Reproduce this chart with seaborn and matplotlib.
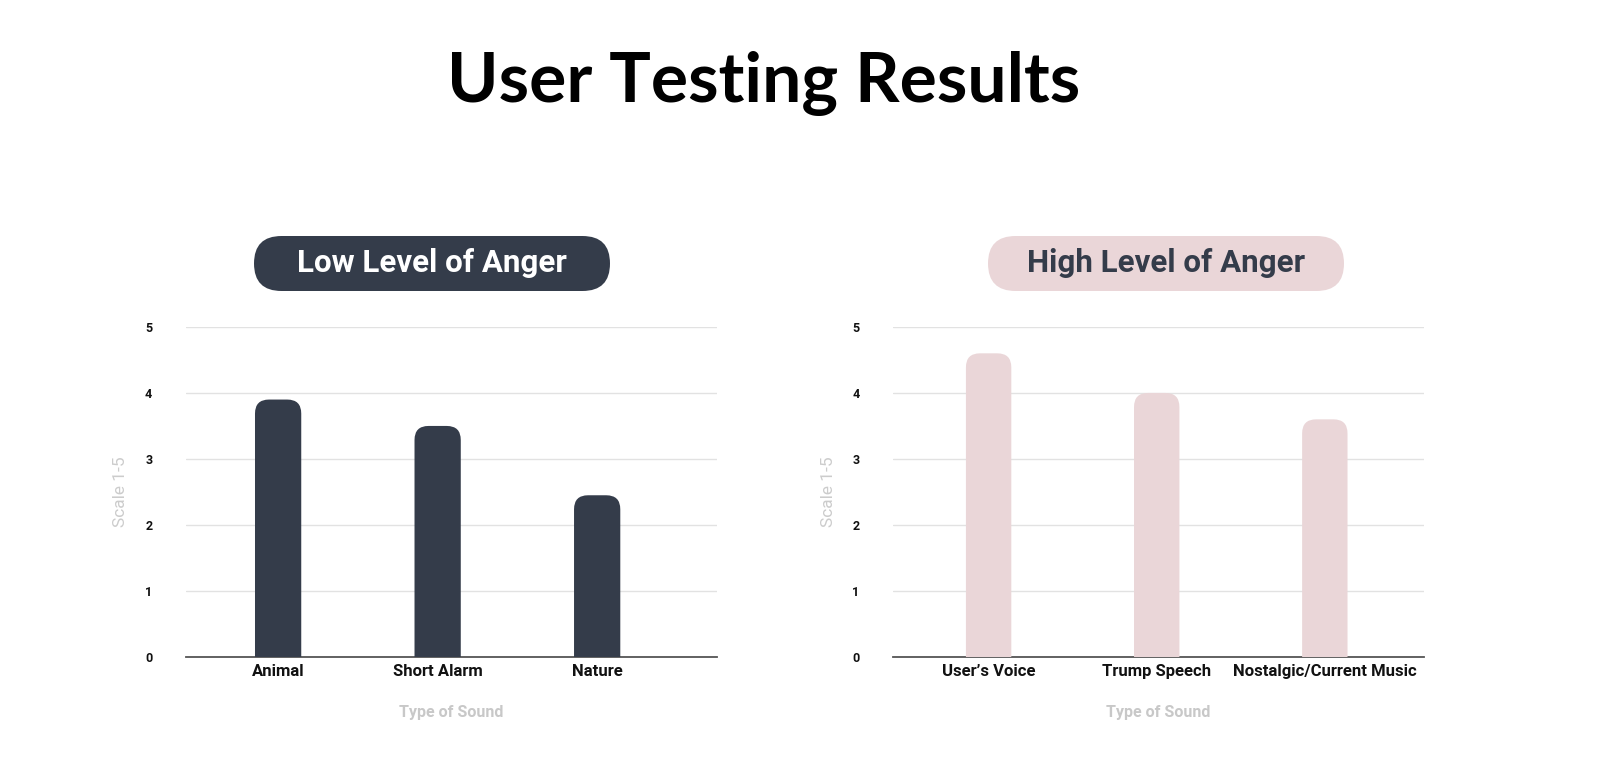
import matplotlib
matplotlib.use("Agg")
import pandas as pd
import matplotlib.pyplot as plt
import seaborn as sns
from matplotlib.patches import FancyBboxPatch

# Dados
low_sounds = ["Animal", "Short Alarm", "Nature"]
low_scores = [3.9, 3.5, 2.45]
high_sounds = ["User’s Voice", "Trump Speech", "Nostalgic/Current Music"]
high_scores = [4.6, 4.0, 3.6]

dark = "#343c4a"
pink = "#ead6d8"

sns.set_theme(style="white")
plt.rcParams["font.family"] = ["Roboto", "DejaVu Sans"]

fig = plt.figure(figsize=(16, 7.84), dpi=100)


def round_bars(ax, color):
    # troca os retângulos por barras com topo arredondado
    fig.canvas.draw()
    bb = ax.get_window_extent()
    x0, x1 = ax.get_xlim()
    y0, y1 = ax.get_ylim()
    px_x = bb.width / (x1 - x0)
    px_y = bb.height / (y1 - y0)
    for p in list(ax.patches):
        x, w, h = p.get_x(), p.get_width(), p.get_height()
        p.remove()
        r = 14 / px_x
        ax.add_patch(FancyBboxPatch((x, -0.5), w, h + 0.5,
                                    boxstyle=f"round,pad=0,rounding_size={r}",
                                    mutation_aspect=px_x / px_y,
                                    fc=color, ec="none", zorder=3))


def panel(rect, sounds, scores, color, xlim, width):
    ax = fig.add_axes(rect)
    df = pd.DataFrame({"Sound": sounds, "Score": scores})
    sns.barplot(data=df, x="Sound", y="Score", color=color, width=width,
                saturation=1, ax=ax)
    ax.set_ylim(0, 5)
    ax.set_xlim(*xlim)
    ax.set_yticks(range(6))
    ax.yaxis.grid(True, color="#e2e2e2", lw=1)
    ax.set_axisbelow(True)
    for s in ["top", "right", "left"]:
        ax.spines[s].set_visible(False)
    ax.spines["bottom"].set_color("#555555")
    ax.spines["bottom"].set_linewidth(1.3)
    ax.tick_params(axis="y", length=0, pad=24, labelsize=9)
    ax.tick_params(axis="x", length=0, pad=5, labelsize=12)
    for t in ax.get_yticklabels():
        t.set_fontweight("bold")
        t.set_color("#111111")
    for t in ax.get_xticklabels():
        t.set_fontweight("bold")
        t.set_color("#111111")
    ax.set_xlabel("Type of Sound", fontsize=11.5, color="#c8c8c8",
                  fontweight="bold", labelpad=19)
    ax.set_ylabel("Scale 1-5", fontsize=12.5, color="#cccccc", labelpad=12)
    round_bars(ax, color)
    return ax


panel([0.116, 0.162, 0.332, 0.421], low_sounds, low_scores, dark,
      (-0.58, 2.75), 0.29)
panel([0.558, 0.162, 0.332, 0.421], high_sounds, high_scores, pink,
      (-0.57, 2.59), 0.27)

# Caixas dos subtítulos
for x0, fc, tc, txt in [(2.54, dark, "white", "Low Level of Anger"),
                        (9.88, pink, dark, "High Level of Anger")]:
    fig.patches.append(FancyBboxPatch((x0, 4.93), 3.56, 0.55,
                                      boxstyle="round,pad=0,rounding_size=0.275",
                                      transform=fig.dpi_scale_trans,
                                      fc=fc, ec="none"))
    fig.text(x0 + 1.78, 5.205, txt, transform=fig.dpi_scale_trans,
             ha="center", va="center", fontsize=22.5, fontweight="bold", color=tc)

# Título
fig.text(0.477, 0.893, "User Testing Results", ha="center", va="center",
         fontsize=50, fontweight="bold", color="black",
         family=["Lato", "DejaVu Sans"])

fig.savefig("out.png", dpi=100)
